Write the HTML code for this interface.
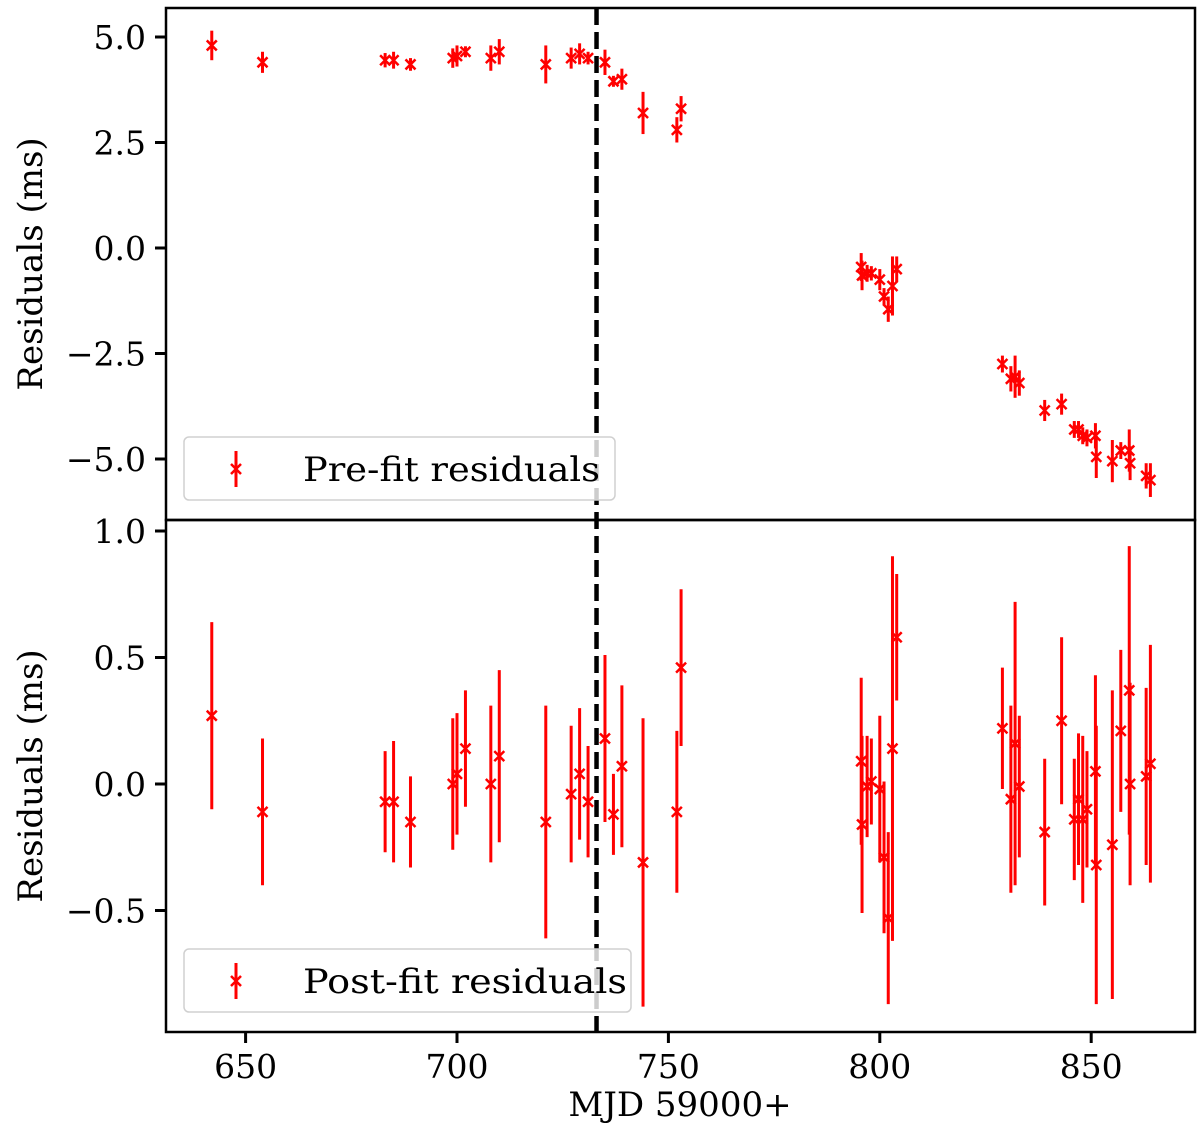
<!DOCTYPE html>
<html><head><meta charset="utf-8"><style>
body{margin:0;background:#fff}
svg text{font-family:"DejaVu Serif","Liberation Serif",serif;fill:#000}
</style></head><body>
<svg id="chart" width="1200" height="1133" xmlns="http://www.w3.org/2000/svg"></svg>
<script>
const mjd =     [642,654,683,685,689,699,700,702,708,710,721,727,729,731,735,737,739,744,752,753,795.6,795.8,797,798,800,801,802,803,804,829,831,832,833,839,843,846,847,848,849,851,851.2,855,857,859,859.2,863,864];
const preVal =  [4.8,4.4,4.45,4.45,4.35,4.5,4.55,4.65,4.5,4.65,4.35,4.5,4.6,4.5,4.4,3.95,4.0,3.2,2.8,3.3,-0.45,-0.65,-0.6,-0.6,-0.75,-1.15,-1.45,-0.9,-0.5,-2.75,-3.1,-3.05,-3.2,-3.85,-3.7,-4.3,-4.3,-4.45,-4.5,-4.45,-4.95,-5.05,-4.8,-4.8,-5.1,-5.4,-5.5];
const preErr =  [0.35,0.25,0.17,0.2,0.15,0.23,0.25,0.13,0.3,0.3,0.45,0.25,0.25,0.15,0.3,0.13,0.25,0.5,0.3,0.3,0.33,0.35,0.2,0.17,0.25,0.2,0.3,0.7,0.3,0.2,0.3,0.5,0.3,0.25,0.25,0.2,0.2,0.2,0.2,0.3,0.5,0.5,0.2,0.5,0.4,0.3,0.4];
const postVal = [0.27,-0.11,-0.07,-0.07,-0.15,0.0,0.04,0.14,0.0,0.11,-0.15,-0.04,0.04,-0.07,0.18,-0.12,0.07,-0.31,-0.11,0.46,0.09,-0.16,-0.01,0.01,-0.02,-0.29,-0.53,0.14,0.58,0.22,-0.06,0.16,-0.01,-0.19,0.25,-0.14,-0.06,-0.14,-0.10,0.05,-0.32,-0.24,0.21,0.37,0.0,0.03,0.08];
const postErr = [0.37,0.29,0.2,0.24,0.18,0.26,0.24,0.23,0.31,0.34,0.46,0.27,0.26,0.22,0.33,0.16,0.32,0.57,0.32,0.31,0.33,0.35,0.2,0.17,0.29,0.3,0.34,0.76,0.25,0.24,0.37,0.56,0.28,0.29,0.33,0.24,0.26,0.33,0.23,0.38,0.55,0.61,0.32,0.57,0.4,0.35,0.47];
const xTicks = [650,700,750,800,850];
const topTicks = [5.0,2.5,0.0,-2.5,-5.0];
const botTicks = [1.0,0.5,0.0,-0.5];
const glitchMJD = 733;

const svg=document.getElementById('chart');
const NS='http://www.w3.org/2000/svg';
function mk(tag,attrs,parent){const e=document.createElementNS(NS,tag);for(const k in attrs)e.setAttribute(k,attrs[k]);(parent||svg).appendChild(e);return e;}
const L=166,R=1195;
const x=v=>245.6+(v-650)*4.228;
const yTop=v=>37+(5-v)*(459-37)/10;
const yBot=v=>784-v*253;
const fmt=v=>(v<0?'\u2212':'')+Math.abs(v).toFixed(1);

const vl=mk('line',{x1:x(glitchMJD),x2:x(glitchMJD),y1:8,y2:1032,stroke:'#000','stroke-width':4.5,'stroke-dasharray':'17,7'});



function panel(name,T,B,yf,vals,errs,ticks,legendText,legY,legW){
  const g=mk('g',{});
  
  
  for(let i=0;i<mjd.length;i++){
    const cx=x(mjd[i]),cy=yf(vals[i]);
    const eb=mk('line',{x1:cx,x2:cx,y1:yf(vals[i]+errs[i]),y2:yf(vals[i]-errs[i]),stroke:'#ff0000','stroke-width':3},g);
    
    
    const m=mk('path',{d:`M${cx-5},${cy-5}L${cx+5},${cy+5}M${cx-5},${cy+5}L${cx+5},${cy-5}`,stroke:'#ff0000','stroke-width':2.5},g);
    
    
  }
  ticks.forEach(t=>{
    const ty=yf(t);
    mk('line',{x1:L-11,x2:L,y1:ty,y2:ty,stroke:'#000','stroke-width':3},g);
    const tx=mk('text',{x:L-20,y:ty+12,'text-anchor':'end','font-size':33},g);
    tx.textContent=fmt(t);
    
    
  });
  const lg=mk('g',{},g);
  
  
  mk('rect',{x:184,y:legY,width:legW,height:63,rx:5,fill:'rgba(255,255,255,0.8)',stroke:'#d0d0d0','stroke-width':1.5},lg);
  const my=legY+32;
  mk('line',{x1:236,x2:236,y1:my-18,y2:my+18,stroke:'#ff0000','stroke-width':3},lg);
  mk('path',{d:`M231,${my-5}L241,${my+5}M231,${my+5}L241,${my-5}`,stroke:'#ff0000','stroke-width':2.5},lg);
  const lt=mk('text',{x:303,y:my+12,'font-size':34,textLength:legendText.length>17?324:297,lengthAdjust:'spacingAndGlyphs'},lg);
  lt.textContent=legendText;
  const yl=mk('text',{x:0,y:0,'font-size':34,'text-anchor':'middle',transform:`translate(42,${(T+B)/2}) rotate(-90)`},g);
  yl.textContent='Residuals (ms)';
  
  
}
panel('top-panel',8,520,yTop,preVal,preErr,topTicks,'Pre-fit residuals',437,431);
panel('bottom-panel',520,1032,yBot,postVal,postErr,botTicks,'Post-fit residuals',949,447);

xTicks.forEach(t=>{
  const tx=x(t);
  mk('line',{x1:tx,x2:tx,y1:1032,y2:1043,stroke:'#000','stroke-width':3});
  const tt=mk('text',{x:tx,y:1078,'text-anchor':'middle','font-size':33});
  tt.textContent=t;
  
  
});
const xl=mk('text',{x:680,y:1116,'text-anchor':'middle','font-size':34});
xl.textContent='MJD 59000+';



const f1=mk('rect',{x:L,y:8,width:R-L,height:512,fill:'none',stroke:'#000','stroke-width':2.5});


const f2=mk('rect',{x:L,y:520,width:R-L,height:512,fill:'none',stroke:'#000','stroke-width':2.5});


</script>
</body></html>
